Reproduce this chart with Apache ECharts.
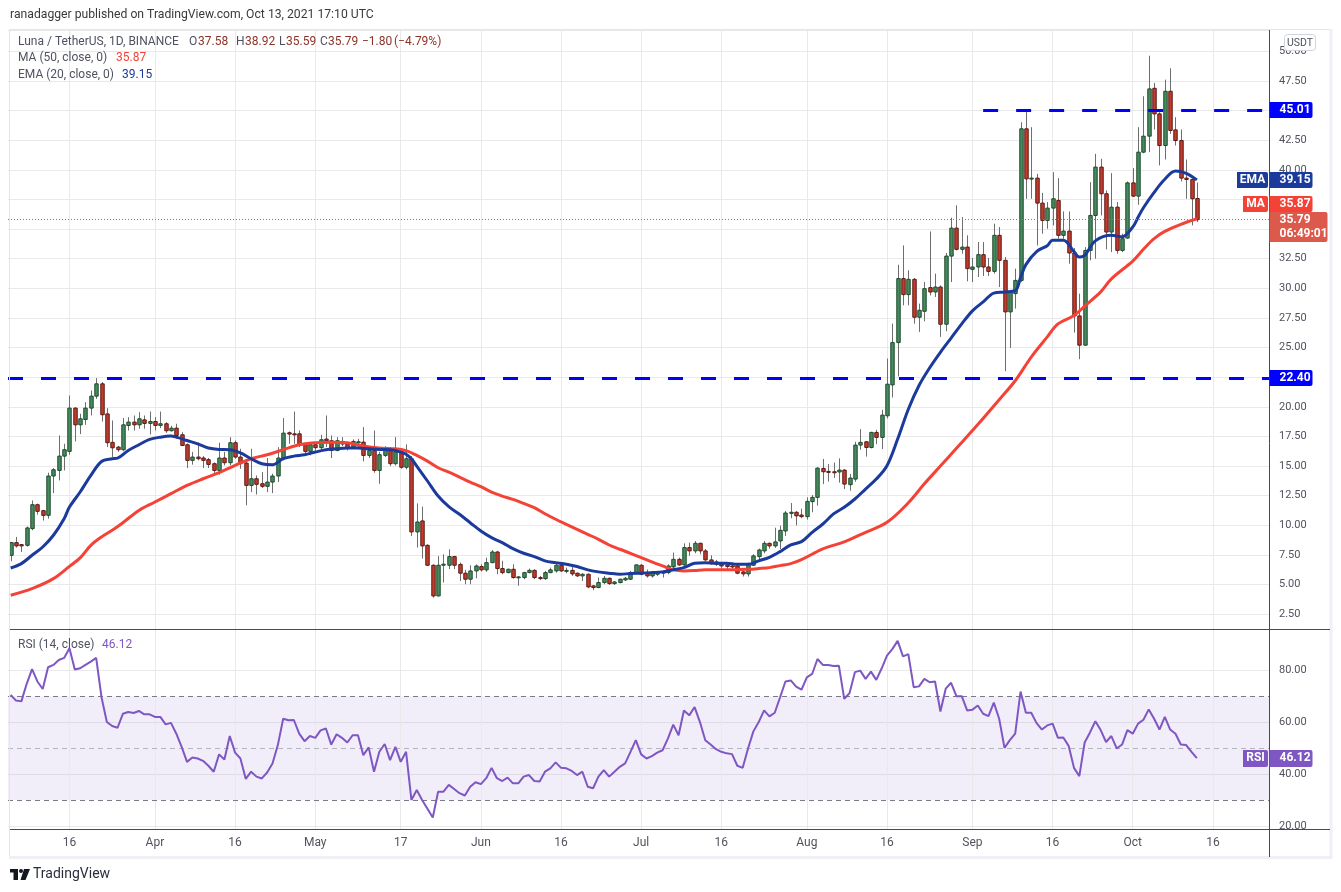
<!DOCTYPE html>
<html><head><meta charset="utf-8">
<script src="https://cdn.jsdelivr.net/npm/echarts@6.0.0/dist/echarts.min.js"></script>
<style>html,body{margin:0;padding:0;background:#fff;}#c{width:1341px;height:892px;}</style>
</head><body><div id="c"></div>
<script>
// ---- categories (daily, 2021-03-05 .. 2021-10-26; candles end 2021-10-13) ----
const dayCount = 236;
const dates = Array.from({length: dayCount}, (_, k) => new Date(Date.UTC(2021, 2, 5 + k)).toISOString().slice(0, 10));
const tickDates = ['2021-03-16','2021-04-01','2021-04-16','2021-05-01','2021-05-17','2021-06-01','2021-06-16','2021-07-01','2021-07-16','2021-08-01','2021-08-16','2021-09-01','2021-09-16','2021-10-01','2021-10-16'];
const tickLabels = ['16','Apr','16','May','17','Jun','16','Jul','16','Aug','16','Sep','16','Oct','16'];

// ---- candles [open, high, low, close] ----
const candles = [
[7.47,8.6,6.97,8.54],[8.54,9.02,8.12,8.26],[8.37,8.4,7.75,8.26],[8.31,9.9,8.2,9.78],[9.72,12.1,9.58,11.74],
[11.74,11.83,10.9,11.18],[11.24,11.3,10.4,10.84],[10.84,14.44,10.56,14.16],[14.16,14.83,12.72,14.69],[14.63,17.58,13.79,15.84],
[15.84,16.88,14.63,16.38],[16.24,20.95,15.96,19.89],[19.89,19.97,17.08,18.48],[18.48,19.41,17.7,18.99],[18.93,20.39,18.48,19.89],
[19.89,21.38,19.27,20.9],[20.9,22.42,20.67,21.94],[21.94,22.08,18.76,19.33],[19.4,19.89,16.6,16.97],[17.0,18.85,15.76,16.54],
[16.6,16.7,16.2,16.38],[16.38,19.05,16.24,18.48],[18.43,19.13,18.0,18.71],[18.71,19.27,18.0,18.48],[18.48,19.55,18.15,18.99],
[18.9,19.27,18.15,18.6],[18.6,19.6,17.67,18.76],[18.76,19.13,18.0,18.43],[18.43,19.6,18.2,18.57],[18.57,18.7,17.8,17.98],
[17.98,18.4,17.92,18.2],[18.2,18.57,17.3,17.58],[17.64,17.86,16.68,16.74],[16.8,16.9,14.83,15.48],[15.48,16.2,15.12,15.76],
[15.76,17.0,15.48,15.62],[15.68,15.84,14.83,15.48],[15.54,15.68,14.83,15.14],[15.2,15.3,14.27,14.63],[14.63,16.97,14.27,15.68],
[15.68,16.2,15.05,15.28],[15.28,17.44,15.05,16.97],[16.97,17.16,15.62,15.76],[15.76,16.46,14.77,15.2],[15.25,15.34,11.69,13.37],
[13.37,16.46,12.8,13.93],[13.93,14.21,12.6,13.46],[13.51,14.49,13.15,13.29],[13.29,15.68,12.8,13.65],[13.65,14.35,12.72,14.16],
[14.16,16.6,13.65,15.68],[15.62,19.05,15.48,17.78],[17.81,17.92,16.88,17.7],[17.72,19.6,16.88,17.67],[17.72,18.0,16.6,16.8],
[16.8,16.97,15.96,16.24],[16.24,16.97,15.9,16.8],[16.8,17.0,16.3,16.55],[16.55,17.64,16.4,17.22],[17.28,19.27,16.6,17.14],
[17.14,17.58,15.68,16.32],[16.32,17.44,16.24,17.14],[17.08,17.44,16.68,16.86],[16.88,17.0,16.32,16.52],[16.6,17.25,16.46,17.08],
[17.0,17.3,16.46,17.05],[17.02,18.29,15.4,15.9],[15.9,16.66,15.68,16.32],[16.32,18.0,14.44,14.63],[14.63,16.2,13.51,15.96],
[15.9,16.68,15.76,16.4],[16.46,16.6,15.0,15.2],[15.2,17.44,15.05,16.2],[16.2,16.32,14.77,14.9],[14.9,16.83,14.72,15.62],
[15.62,15.84,9.1,9.44],[9.44,11.85,8.12,10.28],[10.37,11.57,7.19,8.26],[8.31,8.4,6.57,6.63],[6.63,6.7,3.9,4.04],
[4.04,7.4,4.0,6.63],[6.63,7.55,5.17,6.72],[6.63,7.98,6.3,7.36],[7.36,7.42,6.3,6.63],[6.7,6.85,5.3,5.96],
[5.96,6.24,5.03,5.45],[5.45,6.63,5.03,6.15],[6.15,6.7,5.53,6.57],[6.52,6.72,6.1,6.24],[6.24,7.27,6.07,6.85],
[6.85,7.92,6.8,7.75],[7.75,7.84,5.87,6.35],[6.35,7.0,5.87,6.01],[6.01,6.35,5.96,6.29],[6.29,6.71,5.5,5.59],
[5.6,5.7,4.9,5.65],[5.59,6.07,5.45,6.01],[6.01,6.35,5.96,6.2],[6.2,6.29,5.45,5.59],[5.59,5.73,5.39,5.5],
[5.5,6.15,5.39,6.01],[6.01,6.43,5.96,6.24],[6.15,6.85,6.01,6.63],[6.63,6.8,6.07,6.15],[6.15,6.43,5.96,6.2],
[6.2,6.63,5.73,5.9],[5.96,6.0,5.65,5.73],[5.73,5.95,5.3,5.87],[5.87,5.93,4.69,4.8],[4.89,4.95,4.52,4.75],
[4.75,5.59,4.69,5.17],[5.17,5.73,5.03,5.53],[5.53,5.59,4.97,5.08],[5.08,5.3,4.97,5.22],[5.17,5.5,5.1,5.45],
[5.39,5.65,5.3,5.53],[5.45,6.15,5.39,6.01],[6.01,6.71,5.87,6.66],[6.63,6.71,5.78,5.87],[5.93,6.27,5.59,5.73],
[5.73,6.07,5.59,5.96],[5.87,6.15,5.73,6.01],[5.96,6.2,5.59,6.07],[6.01,6.71,5.87,6.57],[6.49,7.7,6.3,7.13],
[7.13,7.27,6.57,6.66],[6.66,8.48,6.57,8.12],[8.12,8.54,7.42,7.84],[7.84,8.68,7.64,8.48],[8.48,8.54,7.56,7.84],
[7.84,8.0,7.0,7.08],[7.08,7.47,6.66,6.8],[6.91,7.08,6.57,6.71],[6.77,6.91,6.35,6.57],[6.66,6.91,6.29,6.52],
[6.57,6.8,6.35,6.49],[6.57,6.63,5.87,5.96],[6.07,6.15,5.68,5.9],[5.9,6.85,5.68,6.71],[6.63,7.56,6.57,7.42],
[7.36,8.03,7.0,7.92],[7.84,8.68,7.64,8.48],[8.48,8.54,8.03,8.26],[8.26,9.8,8.1,8.6],[8.68,9.97,8.0,9.58],
[9.52,11.21,9.1,11.04],[11.01,11.88,10.6,11.1],[11.1,11.2,10.0,10.8],[10.87,11.4,10.6,10.73],[10.73,12.36,10.48,12.02],
[12.0,12.56,11.1,12.36],[12.36,14.89,11.66,14.83],[14.8,15.6,13.48,14.52],[14.55,15.17,13.7,14.5],[14.52,15.3,14.0,14.5],
[14.5,15.65,13.6,14.66],[14.66,14.75,13.06,13.48],[13.43,14.33,12.92,13.99],[13.9,17.05,13.68,16.77],[16.77,18.12,16.38,17.0],
[17.05,17.1,15.8,16.57],[16.57,17.9,16.49,17.84],[17.84,18.06,16.85,17.42],[17.42,19.75,16.43,19.3],[19.24,24.07,19.02,21.91],
[21.85,27.02,20.79,25.42],[25.42,31.99,22.56,30.82],[30.82,33.62,28.57,29.47],[29.47,31.52,28.57,30.76],[30.76,30.87,27.02,27.56],
[27.56,28.71,26.32,28.15],[28.06,30.53,27.22,29.97],[30.06,34.8,29.4,29.69],[29.69,31.24,29.27,30.11],[30.11,30.25,25.9,26.97],
[26.97,32.98,26.38,32.72],[32.72,35.96,30.53,35.08],[35.08,37.0,33.2,33.29],[33.29,36.01,32.92,33.48],[33.48,34.47,30.59,31.66],
[31.6,32.56,30.53,31.8],[31.8,33.91,30.96,32.84],[32.84,33.91,31.04,31.8],[31.8,32.56,31.04,31.43],[31.43,35.45,31.24,34.47],
[34.47,35.17,30.11,32.36],[32.36,32.64,23.01,28.01],[28.01,29.75,24.97,29.64],[29.55,31.66,28.29,30.67],[30.67,44.02,30.53,43.46],
[43.46,45.0,37.56,39.24],[39.24,43.6,37.56,39.3],[39.3,39.66,33.62,37.19],[37.19,38.06,34.61,35.73],[35.73,37.28,35.03,36.77],
[36.77,39.8,35.31,37.56],[37.42,39.3,34.19,34.47],[34.47,36.49,34.19,34.83],[34.83,36.49,32.08,32.98],[32.98,33.4,26.26,27.67],
[27.67,29.55,24.02,25.2],[25.2,33.48,25.14,33.2],[33.2,38.96,32.36,36.15],[36.15,41.35,32.5,40.23],[40.23,40.93,36.15,37.98],
[37.98,38.26,33.29,34.75],[34.75,39.72,33.06,36.85],[36.85,37.28,32.92,33.2],[33.2,34.61,33.06,34.19],[34.24,39.02,34.19,38.9],
[38.9,40.14,37.7,37.78],[37.78,43.6,37.05,41.49],[41.49,46.21,41.4,42.84],[42.84,49.63,41.49,46.83],[46.88,47.33,43.4,44.72],
[44.72,44.86,40.37,42.05],[42.05,47.61,40.87,46.63],[46.63,48.57,43.03,43.32],[43.37,44.44,42.05,42.47],[42.47,43.4,39.02,39.3],
[39.3,40.87,37.56,39.19],[39.19,39.24,35.31,37.56],[37.58,38.92,35.59,35.79]
];

// ---- MA(50) and EMA(20): [day index, value] ----
const maPoints = [[0,4.1],[4,4.66],[8,5.5],[11,6.54],[13,7.25],[15,8.31],[17,9.02],[19,9.58],[21,10.22],[24,11.26],[27,11.97],[30,12.67],[33,13.37],[36,13.93],[39,14.44],[42,15.06],[45,15.62],[48,15.96],[51,16.38],[54,16.8],[57,16.97],[60,17.02],[63,16.97],[66,16.69],[69,16.52],[72,16.46],[74,16.3],[76,15.9],[78,15.42],[80,14.86],[82,14.49],[84,14.07],[86,13.65],[88,13.26],[90,12.81],[92,12.47],[94,12.19],[96,11.85],[98,11.49],[100,10.98],[102,10.51],[104,10.08],[106,9.66],[108,9.24],[110,8.82],[112,8.34],[114,7.98],[116,7.64],[118,7.28],[120,6.91],[122,6.57],[124,6.24],[126,6.15],[128,6.18],[130,6.24],[134,6.24],[138,6.29],[140,6.35],[142,6.43],[144,6.6],[146,6.77],[148,7.1],[152,8.01],[156,8.6],[160,9.41],[164,10.25],[168,11.9],[171,13.5],[174,15.0],[177,16.5],[181,18.5],[185,20.6],[188,22.2],[191,24.2],[194,25.9],[196,27.0],[199,27.7],[201,28.5],[204,29.7],[206,30.8],[210,32.3],[212,33.3],[214,34.2],[216,34.8],[219,35.4],[222,35.87]];
const emaPoints = [[0,6.4],[2,6.77],[4,7.47],[6,8.17],[8,9.16],[10,10.56],[11,11.54],[13,12.81],[15,14.21],[17,15.39],[19,15.62],[20,15.67],[22,16.32],[24,16.8],[26,17.25],[28,17.44],[30,17.53],[31,17.44],[33,17.16],[35,16.88],[37,16.52],[39,16.4],[41,16.38],[43,16.12],[45,15.62],[47,15.2],[49,15.11],[51,15.62],[53,15.84],[55,15.96],[57,16.18],[59,16.38],[61,16.46],[63,16.52],[65,16.52],[67,16.46],[69,16.4],[71,16.38],[73,16.18],[74,16.0],[75,15.62],[76,15.0],[78,13.74],[80,12.47],[82,11.57],[84,10.93],[86,10.22],[88,9.52],[90,8.96],[92,8.54],[94,8.03],[96,7.64],[98,7.36],[100,7.0],[102,6.85],[104,6.71],[106,6.52],[108,6.24],[110,6.07],[112,5.96],[114,5.87],[116,5.93],[118,5.96],[120,6.01],[122,6.07],[124,6.24],[126,6.43],[128,6.8],[130,6.85],[132,6.8],[134,6.8],[136,6.71],[138,6.71],[140,7.0],[142,7.3],[144,7.78],[146,8.35],[148,8.62],[150,9.41],[152,10.11],[154,10.96],[156,11.52],[158,12.22],[160,13.06],[162,13.9],[164,15.03],[166,17.28],[168,19.8],[170,21.8],[172,23.3],[174,24.6],[176,25.8],[178,27.0],[180,28.1],[182,28.85],[184,29.6],[186,29.69],[188,29.8],[189,30.9],[190,32.0],[192,33.1],[194,33.6],[195,34.05],[197,34.05],[199,33.1],[200,32.64],[201,32.78],[203,34.0],[206,34.47],[208,34.35],[210,35.17],[211,36.0],[212,36.8],[214,38.1],[216,39.2],[218,39.9],[220,39.7],[222,39.15]];

// ---- RSI(14) ----
const rsiValues = [70.6,68.4,68.1,74.9,80.6,75.8,72.9,81.3,82.2,84.1,84.9,88.6,80.4,80.9,82.2,83.5,84.9,69.7,60.1,58.6,
57.9,63.3,64.0,63.6,64.4,63.1,63.1,62.1,62.1,59.2,59.8,55.6,50.5,44.7,46.4,46.0,45.1,43.2,40.9,47.6,
45.6,54.7,48.3,46.0,38.1,40.9,39.0,38.3,40.6,44.1,51.2,61.4,60.8,60.9,55.6,52.7,54.7,54.0,56.9,57.6,
51.4,55.4,54.0,52.2,55.0,55.0,47.3,50.3,40.9,48.6,51.6,45.4,50.5,44.7,48.6,30.0,33.8,30.0,26.6,23.2,
33.2,33.2,35.8,34.2,32.6,31.7,35.1,36.8,36.1,38.4,42.4,38.4,37.3,38.6,36.4,36.4,39.0,39.6,37.3,37.1,
40.9,42.2,44.5,42.4,42.2,41.2,39.6,40.9,35.1,34.5,39.0,41.5,39.0,40.9,42.8,44.1,48.6,53.1,47.6,46.0,
46.9,48.3,49.2,53.7,59.1,55.0,64.6,62.7,65.9,60.1,53.1,51.4,49.6,48.6,48.0,47.7,43.2,42.4,49.9,56.5,
60.1,64.6,62.3,63.7,69.7,75.8,76.2,73.8,72.6,77.4,78.7,84.5,82.2,82.2,81.8,81.9,69.1,71.3,79.4,80.0,
76.8,79.6,76.4,80.8,85.8,88.3,91.5,85.5,86.4,73.6,73.9,76.8,75.5,75.8,64.2,73.0,75.3,70.1,70.1,64.6,
64.9,66.5,63.3,62.4,67.6,61.4,50.1,53.1,55.6,71.9,63.7,63.7,59.7,57.2,58.8,59.5,54.0,54.1,50.9,42.4,
39.2,52.2,56.1,60.4,57.0,52.4,54.7,49.9,51.4,57.0,55.6,59.5,61.0,65.0,61.4,57.2,62.1,57.2,55.6,51.4,
51.2,48.6,46.12];

// ---- horizontal levels and legend values ----
const supportLevel = 22.40;
const resistanceLevel = 45.01;
const resistanceStart = '2021-09-03';
const lastOHLC = [37.58, 38.92, 35.59, 35.79];
const lastChange = ['−1.80', '(−4.79%)'];
const maLast = 35.87, emaLast = 39.15, rsiLast = 46.12;
const hiddenPriceLabels = [45, 37.5, 35, 22.5];

// ---- build series data ----
const candleData = candles.map((c, i) => [i, c[0], c[1], c[2], c[3]]);
function sparse(points) { const a = new Array(dayCount).fill(null); points.forEach(p => { a[p[0]] = p[1]; }); return a; }
const maData = sparse(maPoints);
const emaData = sparse(emaPoints);

const FONT = 'Roboto, "Liberation Sans", sans-serif';
const GRID_C = '#e9e9ec';
const UP = '#468a5e', UP_B = '#1d4a2c', DN = '#c23b2c', DN_B = '#5a1912';

function renderCandle(params, api) {
  const i = api.value(0), o = api.value(1), h = api.value(2), l = api.value(3), c = api.value(4);
  const pO = api.coord([i, o]), pC = api.coord([i, c]), pH = api.coord([i, h]), pL = api.coord([i, l]);
  const bw = api.size([1, 0])[0] * 0.64;
  const up = c >= o;
  const xc = Math.round(pO[0]) + 0.5;
  const top = Math.min(pO[1], pC[1]);
  const hh = Math.max(Math.abs(pO[1] - pC[1]), 1);
  return { type: 'group', children: [
    { type: 'line', shape: { x1: xc, y1: pH[1], x2: xc, y2: pL[1] }, style: { stroke: '#6e6e6e', lineWidth: 1 } },
    { type: 'rect', shape: { x: xc - bw / 2, y: top, width: bw, height: hh },
      style: { fill: up ? UP : DN, stroke: up ? UP_B : DN_B, lineWidth: 1 } }
  ]};
}

const priceColors = ['rgba(0,0,0,0)', GRID_C];
const rsiColors = Array.from({length: 16}, (_, k) => k === 1 ? GRID_C : 'rgba(0,0,0,0)');

const chart = echarts.init(document.getElementById('c'), null, { renderer: 'canvas' });
const option = {
  animation: false,
  backgroundColor: '#ffffff',
  textStyle: { fontFamily: FONT },
  grid: [
    { left: 8, right: 72, top: 30, height: 599 },
    { left: 8, right: 72, top: 630, height: 199 }
  ],
  xAxis: [
    { type: 'category', gridIndex: 0, data: dates, boundaryGap: true,
      axisLine: { show: false }, axisTick: { show: false }, axisLabel: { show: false }, splitLine: { show: false } },
    { type: 'category', gridIndex: 1, data: dates, boundaryGap: true,
      axisLine: { show: false }, axisTick: { show: false }, splitLine: { show: false },
      axisLabel: { interval: (idx, val) => tickDates.indexOf(val) >= 0,
        formatter: val => tickLabels[tickDates.indexOf(val)] || '',
        color: '#50535e', fontSize: 12, margin: 8, fontFamily: FONT } }
  ],
  yAxis: [
    { type: 'value', gridIndex: 0, position: 'right', min: 1.25, max: 51.8, interval: 1.25,
      axisLine: { show: false }, axisTick: { show: false },
      splitLine: { show: true, lineStyle: { color: priceColors, width: 1 } },
      axisLabel: { margin: 10, color: '#50535e', fontSize: 11, fontFamily: FONT,
        formatter: v => { const k = v / 2.5; if (Math.abs(k - Math.round(k)) > 1e-6 || v > 50.01) return '';
          if (hiddenPriceLabels.some(h => Math.abs(h - v) < 1e-6)) return ''; return v.toFixed(2); } } },
    { type: 'value', gridIndex: 1, position: 'right', min: 18.75, max: 95.7, interval: 1.25,
      axisLine: { show: false }, axisTick: { show: false },
      splitLine: { show: true, lineStyle: { color: rsiColors, width: 1 } },
      axisLabel: { margin: 10, color: '#50535e', fontSize: 11, fontFamily: FONT,
        formatter: v => { const k = v / 20; return Math.abs(k - Math.round(k)) < 1e-6 ? v.toFixed(2) : ''; } } }
  ],
  series: [
    { type: 'custom', name: 'Luna', xAxisIndex: 0, yAxisIndex: 0, renderItem: renderCandle,
      data: candleData, encode: { x: 0, y: [1, 2, 3, 4] }, clip: true, z: 3, silent: true,
      markLine: { z: 6, silent: true, symbol: 'none', animation: false, label: { show: false },
        data: [
          { yAxis: supportLevel, lineStyle: { color: '#0000ff', width: 3, type: [15, 18] } },
          [ { coord: [resistanceStart, resistanceLevel], lineStyle: { color: '#0000ff', width: 3, type: [15, 18] } },
            { coord: [dates[dates.length - 1], resistanceLevel] } ],
          { yAxis: lastOHLC[3], lineStyle: { color: '#e0574a', width: 1, type: [1, 2] } }
        ] } },
    { type: 'line', name: 'MA', xAxisIndex: 0, yAxisIndex: 0, data: maData, connectNulls: true, smooth: 0.35,
      symbol: 'none', lineStyle: { color: '#f44336', width: 3 }, z: 4, silent: true,
      markLine: { z: 1, silent: true, symbol: 'none', animation: false, label: { show: false },
        lineStyle: { color: GRID_C, width: 1, type: 'solid' },
        data: tickDates.map(d => ({ xAxis: d })) } },
    { type: 'line', name: 'EMA', xAxisIndex: 0, yAxisIndex: 0, data: emaData, connectNulls: true, smooth: 0.35,
      symbol: 'none', lineStyle: { color: '#1a3a9c', width: 3 }, z: 5, silent: true },
    { type: 'line', name: 'RSI', xAxisIndex: 1, yAxisIndex: 1, data: rsiValues, symbol: 'none',
      lineStyle: { color: '#7e57c2', width: 2 }, z: 4, silent: true,
      markArea: { silent: true, itemStyle: { color: 'rgba(126,87,194,0.10)' }, data: [[{ yAxis: 30 }, { yAxis: 70 }]] },
      markLine: { z: 2, silent: true, symbol: 'none', animation: false, label: { show: false },
        data: tickDates.map(d => ({ xAxis: d, lineStyle: { color: GRID_C, width: 1, type: 'solid' } })).concat([
          { yAxis: 70, lineStyle: { color: '#787b86', width: 1, type: [5, 4] } },
          { yAxis: 50, lineStyle: { color: '#b2b5be', width: 1, type: [5, 4] } },
          { yAxis: 30, lineStyle: { color: '#787b86', width: 1, type: [5, 4] } }
        ]) } }
  ]
};
chart.setOption(option);

// ---- overlay: frame, texts and price tags positioned through the axes ----
const yP = v => chart.convertToPixel({ yAxisIndex: 0 }, v);
const yR = v => chart.convertToPixel({ yAxisIndex: 1 }, v);
const AX = 1269.5;
function txt(x, y, text, fill, size, opts, z) {
  return Object.assign({ type: 'text', x: x, y: y, z: z || 200, silent: true,
    style: Object.assign({ text: text, fill: fill, font: (size || 12) + 'px ' + FONT,
      textAlign: 'left', align: 'left', textVerticalAlign: 'middle', verticalAlign: 'middle' }, (opts || {})) });
}
function box(x, yc, w, h, color, text, center) {
  const els = [{ type: 'rect', z: 210, silent: true, shape: { x: x, y: Math.round(yc - h / 2), width: w, height: h, r: [0, 2, 2, 0] }, style: { fill: color } }];
  if (Array.isArray(text)) {
    els.push(txt(x + 10, yc - 7, text[0], '#ffffff', 12, { font: 'bold 12px ' + FONT }, 211));
    els.push(txt(x + 10, yc + 7, text[1], '#ffffff', 12, { font: 'bold 12px ' + FONT }, 211));
  } else {
    els.push(center ? txt(x + w / 2, yc, text, '#ffffff', 12, { font: 'bold 12px ' + FONT, textAlign: 'center', align: 'center' }, 211)
                    : txt(x + 10, yc, text, '#ffffff', 12, { font: 'bold 12px ' + FONT }, 211));
  }
  return els;
}
const yLast = yP(lastOHLC[3]);
const yMA = Math.min(yP(maLast), yLast - 16);
const yEMA = yP(emaLast);
const yRsi = yR(rsiLast);
const gray = '#4f5260', valRed = '#8c3325';
let g = [
  { type: 'rect', z: 150, silent: true, shape: { x: 9.5, y: 29.5, width: 1321, height: 827 }, style: { fill: 'none', stroke: '#e3e5ec', lineWidth: 1 } },
  { type: 'line', z: 150, silent: true, shape: { x1: 1331, y1: 29, x2: 1331, y2: 858 }, style: { stroke: '#eef0f5', lineWidth: 3 } },
  { type: 'line', z: 150, silent: true, shape: { x1: 9, y1: 857.5, x2: 1332, y2: 857.5 }, style: { stroke: '#eef0f5', lineWidth: 3 } },
  { type: 'line', z: 160, silent: true, shape: { x1: 10, y1: 629.5, x2: 1330, y2: 629.5 }, style: { stroke: '#4a4a4a', lineWidth: 1 } },
  { type: 'line', z: 160, silent: true, shape: { x1: 10, y1: 829.5, x2: 1330, y2: 829.5 }, style: { stroke: '#4a4a4a', lineWidth: 1 } },
  { type: 'line', z: 160, silent: true, shape: { x1: AX, y1: 30, x2: AX, y2: 857 }, style: { stroke: '#4a4a4a', lineWidth: 1 } },
  txt(10, 15, 'ranadagger published on TradingView.com, Oct 13, 2021 17:10 UTC', '#3a3a3a', 12.2),
  txt(18, 42, 'Luna / TetherUS, 1D, BINANCE', gray, 12),
  txt(189, 42, 'O', gray, 12), txt(198, 42, lastOHLC[0].toFixed(2), valRed, 12),
  txt(236, 42, 'H', gray, 12), txt(245, 42, lastOHLC[1].toFixed(2), valRed, 12),
  txt(279, 42, 'L', gray, 12), txt(286, 42, lastOHLC[2].toFixed(2), valRed, 12),
  txt(320, 42, 'C', gray, 12), txt(328, 42, lastOHLC[3].toFixed(2), valRed, 12),
  txt(362, 42, lastChange[0], valRed, 12), txt(394, 42, lastChange[1], valRed, 12),
  txt(18, 58, 'MA (50, close, 0)', gray, 12), txt(116, 58, maLast.toFixed(2), '#f44336', 12),
  txt(18, 75, 'EMA (20, close, 0)', gray, 12), txt(122, 75, emaLast.toFixed(2), '#1a3a9c', 12),
  txt(18, 645, 'RSI (14, close)', gray, 12), txt(102, 645, rsiLast.toFixed(2), '#7e57c2', 12),
  { type: 'rect', z: 220, silent: true, shape: { x: 1284.5, y: 34.5, width: 31, height: 16, r: 3 }, style: { fill: '#ffffff', stroke: '#d1d4dc', lineWidth: 1 } },
  txt(1300, 43, 'USDT', '#50535e', 10.5, { textAlign: 'center', align: 'center' }, 221),
  // TradingView logo
  { type: 'rect', z: 200, silent: true, shape: { x: 10, y: 869, width: 8, height: 3.5 }, style: { fill: '#131722' } },
  { type: 'rect', z: 200, silent: true, shape: { x: 13.5, y: 869, width: 4.5, height: 11 }, style: { fill: '#131722' } },
  { type: 'circle', z: 200, silent: true, shape: { cx: 21, cy: 871, r: 2 }, style: { fill: '#131722' } },
  { type: 'polygon', z: 200, silent: true, shape: { points: [[24, 869], [30, 869], [25.5, 880], [20.5, 880]] }, style: { fill: '#131722' } },
  txt(33, 874.5, 'TradingView', '#2a2e39', 14)
];
g = g.concat(box(AX, yP(resistanceLevel), 43, 16, '#0000ff', resistanceLevel.toFixed(2)));
g = g.concat(box(AX, yP(supportLevel), 43, 16, '#0000ff', supportLevel.toFixed(2)));
g = g.concat(box(1237, yEMA, 31, 16, '#1a3a9c', 'EMA', true));
g = g.concat(box(AX, yEMA, 43, 16, '#1a3a9c', emaLast.toFixed(2)));
g = g.concat(box(1243, yMA, 25, 16, '#f44336', 'MA', true));
g = g.concat(box(AX, yMA, 43, 16, '#f44336', maLast.toFixed(2)));
g = g.concat(box(AX, yLast + 7, 58, 30, '#dc5a4c', [lastOHLC[3].toFixed(2), '06:49:01']));
g = g.concat(box(1243, yRsi, 25, 17, '#7e57c2', 'RSI', true));
g = g.concat(box(AX, yRsi, 43, 17, '#7e57c2', rsiLast.toFixed(2)));
chart.setOption({ graphic: { elements: g } });
</script></body></html>
